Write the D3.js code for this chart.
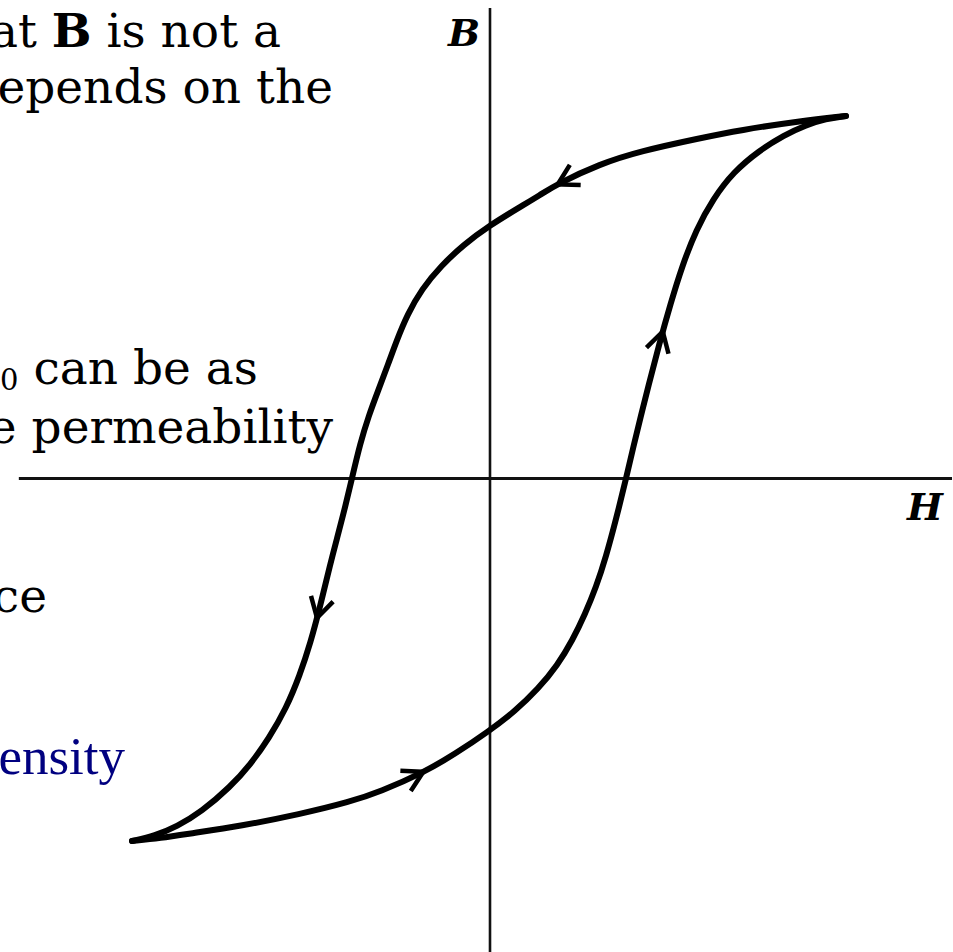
<!DOCTYPE html>
<html>
<head>
<meta charset="utf-8">
<script src="https://cdn.jsdelivr.net/npm/d3@7"></script>
<style>
  html, body { margin: 0; padding: 0; background: #ffffff; }
  #chart { width: 953px; height: 952px; overflow: hidden; }
</style>
</head>
<body>
<div id="chart"></div>
<script>
/* Hysteresis loop B(H) with partially visible text to the left */

// descending branch: from +saturation down to -saturation (H, B)
const descendingBranch = [
    [100, 100], [87.1, 98.6], [70.3, 96.1], [59.1, 93.9], [42.3, 90.3],
    [31.1, 86.8], [19.0, 81.2], [14.3, 78.2], [8.7, 74.9], [0, 69.7],
    [-7.0, 64.6], [-13.5, 58.6], [-18.8, 52.3], [-22.9, 45.2], [-25.8, 38.2],
    [-28.3, 31.4], [-31.0, 24.4], [-33.7, 17.3], [-36.1, 9.6], [-38.4, 0],
    [-40.3, -7.9], [-42.3, -15.5], [-44.5, -23.7], [-47.3, -35.3], [-50.0, -45.3],
    [-53.0, -54.3], [-56.8, -63.4], [-61.6, -71.6], [-66.9, -79.0], [-72.4, -85.0],
    [-80.6, -92.0], [-87.4, -96.0], [-93.6, -98.6], [-100, -100]
];

// ascending branch: from -saturation back up to +saturation (H, B)
const ascendingBranch = [
    [-100, -100], [-92.2, -99.2], [-82.9, -97.8], [-69.7, -95.9], [-52.9, -92.6],
    [-38.9, -89.2], [-30.5, -86.4], [-18.5, -81.2], [-9.5, -76.0], [0, -69.7],
    [7.3, -64.2], [13.8, -58.0], [19.2, -51.5], [23.4, -44.6], [26.9, -37.4],
    [30.0, -30.0], [32.8, -21.5], [35.6, -11.2], [38.4, 0], [40.5, 9.0],
    [42.6, 17.5], [44.6, 25.3], [47.6, 36.8], [50.9, 48.4], [54.1, 58.6],
    [58.0, 68.6], [62.8, 77.2], [68.5, 84.6], [75.6, 90.4], [82.6, 94.7],
    [88.8, 97.5], [94.3, 99.2], [100, 100]
];

// arrow positions (H, B) on each branch
const descendingArrows = [[19.0, 81.5], [-47.9, -38.5]];
const ascendingArrows = [[-18.5, -80.4], [48.7, 40.4]];

// how far the axes reach
const hAxisExtent = [-131.7, 129.7];
const bAxisExtent = [-130.6, 129.8];

// axis names
const axisNames = { b: "B", h: "H" };

// text cut off by the left edge
const sideText = [
    { parts: [["at ", "normal"], ["B", "bold"], [" is not a", "normal"]], end: 281, base: 47 },
    { parts: [["epends on the", "normal"]], end: 333, base: 103 },
    { parts: [["0", "sub"], [" can be as", "normal"]], end: 258, base: 384 },
    { parts: [["e permeability", "normal"]], end: 333, base: 443 },
    { parts: [["ce", "normal"]], end: 47, base: 612 }
];
const linkText = { text: "ensity", end: 125, base: 774 };

function renderLoop() {
    const container = d3.select("#chart");
    container.selectAll("*").remove();

    const width = 953;
    const height = 952;

    const svg = container.append("svg")
        .attr("width", width)
        .attr("height", height);

    svg.append("rect")
        .attr("width", width)
        .attr("height", height)
        .attr("fill", "#ffffff");

    const x = d3.scaleLinear()
        .domain([-100, 100])
        .range([132, 846]);

    const y = d3.scaleLinear()
        .domain([-100, 100])
        .range([841, 116]);

    // axes
    svg.append("line")
        .attr("x1", x(hAxisExtent[0]))
        .attr("x2", x(hAxisExtent[1]))
        .attr("y1", y(0))
        .attr("y2", y(0))
        .attr("stroke", "#111")
        .attr("stroke-width", 3);

    svg.append("line")
        .attr("x1", x(0) + 1)
        .attr("x2", x(0) + 1)
        .attr("y1", y(bAxisExtent[1]))
        .attr("y2", y(bAxisExtent[0]))
        .attr("stroke", "#111")
        .attr("stroke-width", 2.6);

    svg.append("text")
        .attr("x", x(0) - 9)
        .attr("y", 46)
        .attr("text-anchor", "end")
        .attr("font-family", "DejaVu Serif")
        .attr("font-weight", "bold")
        .attr("font-style", "italic")
        .attr("font-size", 38)
        .attr("fill", "#000")
        .text(axisNames.b);

    svg.append("text")
        .attr("x", 925)
        .attr("y", 520)
        .attr("text-anchor", "middle")
        .attr("font-family", "DejaVu Serif")
        .attr("font-weight", "bold")
        .attr("font-style", "italic")
        .attr("font-size", 38)
        .attr("fill", "#000")
        .text(axisNames.h);

    // loop
    const line = d3.line()
        .x(d => x(d[0]))
        .y(d => y(d[1]))
        .curve(d3.curveBasis);

    const branches = [
        { data: descendingBranch, arrows: descendingArrows },
        { data: ascendingBranch, arrows: ascendingArrows }
    ];

    branches.forEach(b => {
        const path = svg.append("path")
            .datum(b.data)
            .attr("d", line)
            .attr("fill", "none")
            .attr("stroke", "#000")
            .attr("stroke-width", 6)
            .attr("stroke-linecap", "round")
            .attr("stroke-linejoin", "round");

        const node = path.node();
        const total = node.getTotalLength();

        b.arrows.forEach(a => {
            const tx = x(a[0]), ty = y(a[1]);
            let best = 0, bestD = Infinity;
            for (let l = 0; l <= total; l += 1) {
                const p = node.getPointAtLength(l);
                const d = (p.x - tx) ** 2 + (p.y - ty) ** 2;
                if (d < bestD) { bestD = d; best = l; }
            }
            const tip = node.getPointAtLength(best);
            const p0 = node.getPointAtLength(Math.max(0, best - 4));
            const p1 = node.getPointAtLength(Math.min(total, best + 4));
            const ang = Math.atan2(p1.y - p0.y, p1.x - p0.x);
            const len = 23, spread = 0.52;
            const back = ang + Math.PI;
            const l1 = [tip.x + len * Math.cos(back + spread), tip.y + len * Math.sin(back + spread)];
            const l2 = [tip.x + len * Math.cos(back - spread), tip.y + len * Math.sin(back - spread)];
            svg.append("path")
                .attr("d", `M${l1[0]},${l1[1]}L${tip.x},${tip.y}L${l2[0]},${l2[1]}`)
                .attr("fill", "none")
                .attr("stroke", "#000")
                .attr("stroke-width", 4.5)
                .attr("stroke-linejoin", "miter");
        });
    });

    // side text
    sideText.forEach(row => {
        const t = svg.append("text")
            .attr("x", row.end)
            .attr("y", row.base)
            .attr("text-anchor", "end")
            .attr("font-family", "DejaVu Serif")
            .attr("font-size", 47)
            .attr("fill", "#000");
        row.parts.forEach(p => {
            const s = t.append("tspan").text(p[0]);
            if (p[1] === "bold") s.attr("font-weight", "bold");
            if (p[1] === "sub") s.attr("font-size", 29).attr("dy", 6);
            if (p[1] === "normal" && row.parts[0][1] === "sub") s.attr("dy", -6);
        });
    });

    svg.append("text")
        .attr("x", linkText.end)
        .attr("y", linkText.base)
        .attr("text-anchor", "end")
        .attr("font-family", "Liberation Serif")
        .attr("font-size", 53)
        .attr("fill", "#000080")
        .text(linkText.text);
}

renderLoop();
</script>
</body>
</html>
